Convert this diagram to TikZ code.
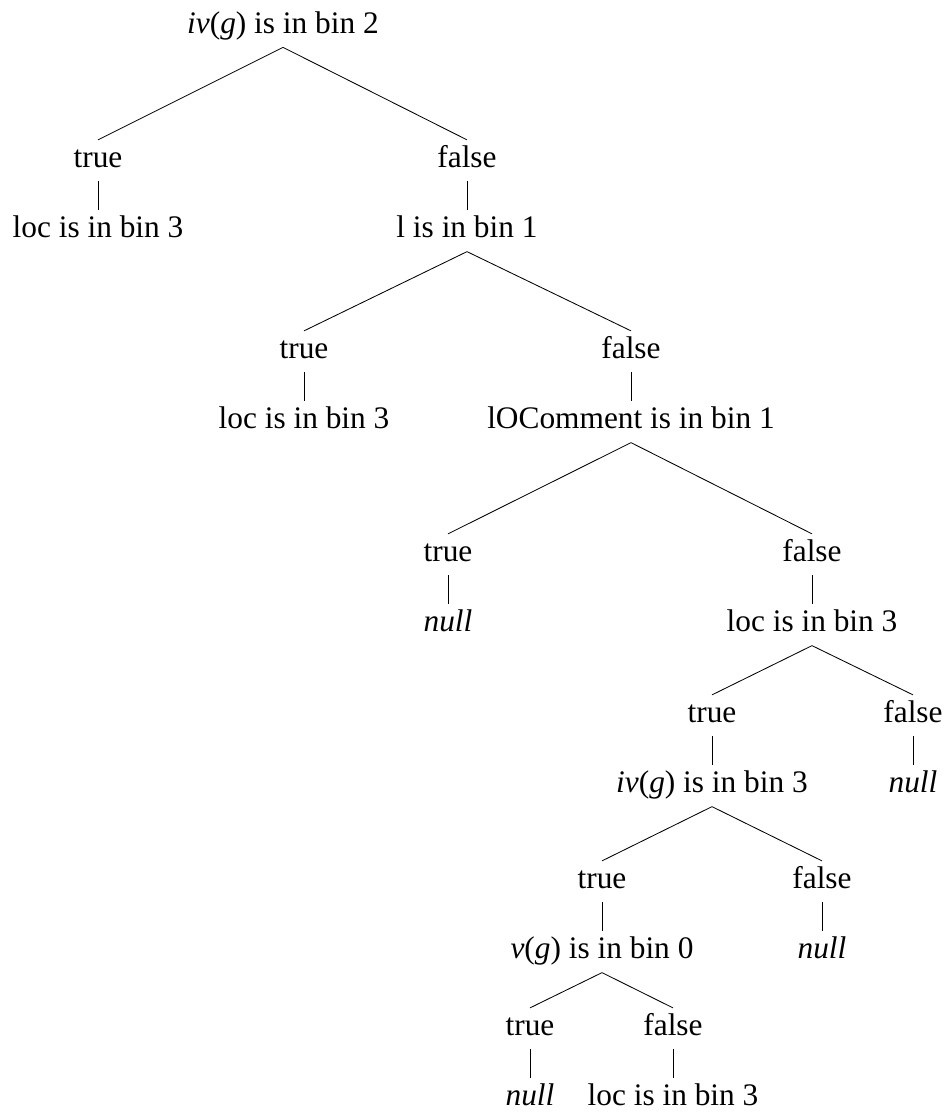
\documentclass[tikz,border=0pt]{standalone}
\usepackage{fontspec}
\setmainfont{Liberation Serif}
\usetikzlibrary{positioning}

\begin{document}
\begin{tikzpicture}[
    x=0.025cm,y=-0.025cm,
    node distance=0.72cm,
    lbl/.style={anchor=base,font=\fontsize{22.3}{26}\selectfont,
        text height=14.7pt,text depth=5.6pt,inner xsep=2pt,inner ysep=4.4pt},
    br/.style={line width=0.6pt}]
  \useasboundingbox (0,0) rectangle (948,1113);
  % root test
  \node[lbl] (q0) at (283,33) {\textit{iv}(\textit{g}) is in bin 2};
  \node[lbl] (t1) at (98,167)  {true};
  \node[lbl] (f1) at (467,167) {false};
  \node[lbl,below=of t1] (a1) {loc is in bin 3};
  \node[lbl,below=of f1] (q1) {l is in bin 1};
  % second test
  \node[lbl] (t2) at (304,358) {true};
  \node[lbl] (f2) at (631,358) {false};
  \node[lbl,below=of t2] (a2) {loc is in bin 3};
  \node[lbl,below=of f2] (q2) {lOComment is in bin 1};
  % third test
  \node[lbl] (t3) at (448,561) {true};
  \node[lbl] (f3) at (812,561) {false};
  \node[lbl,below=of t3] (a3) {\textit{null}};
  \node[lbl,below=of f3] (q3) {loc is in bin 3};
  % fourth test
  \node[lbl] (t4) at (712,722) {true};
  \node[lbl] (f4) at (913,722) {false};
  \node[lbl,below=of t4] (q4) {\textit{iv}(\textit{g}) is in bin 3};
  \node[lbl,below=of f4] (a4) {\textit{null}};
  % fifth test
  \node[lbl] (t5) at (602,888) {true};
  \node[lbl] (f5) at (822,888) {false};
  \node[lbl,below=of t5] (q5) {\textit{v}(\textit{g}) is in bin 0};
  \node[lbl,below=of f5] (a5) {\textit{null}};
  % last test
  \node[lbl] (t6) at (530,1035) {true};
  \node[lbl] (f6) at (673,1035) {false};
  \node[lbl,below=of t6] (a6) {\textit{null}};
  \node[lbl,below=of f6] (a7) {loc is in bin 3};
  \foreach \p/\c in {q0/t1,q0/f1,t1/a1,f1/q1,
                     q1/t2,q1/f2,t2/a2,f2/q2,
                     q2/t3,q2/f3,t3/a3,f3/q3,
                     q3/t4,q3/f4,t4/q4,f4/a4,
                     q4/t5,q4/f5,t5/q5,f5/a5,
                     q5/t6,q5/f6,t6/a6,f6/a7}
    \draw[br] (\p.south) -- (\c.north);
\end{tikzpicture}
\end{document}
